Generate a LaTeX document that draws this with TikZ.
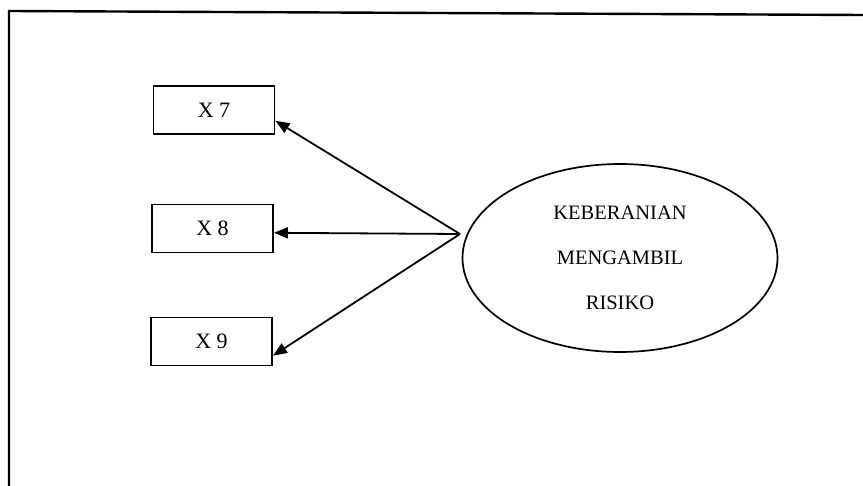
\documentclass[tikz,border=0pt]{standalone}
\usepackage{fontspec}
\setmainfont{Liberation Serif}
\usetikzlibrary{shapes.geometric,arrows.meta}
\tikzset{
  obsbox/.style={draw, line width=1.9pt, minimum width=121pt, minimum height=48pt, inner sep=0pt, font=\fontsize{22}{24}\selectfont},
  latentnode/.style={draw, ellipse, line width=1.7pt, minimum width=315pt, minimum height=188pt, inner sep=0pt, align=center, font=\fontsize{20.5}{45}\selectfont},
  arr/.style={line width=1.8pt, -{Triangle[length=14pt,width=11pt]}},
  frame/.style={line width=2.4pt}
}
\begin{document}
\begin{tikzpicture}[x=1pt,y=-1pt]
\useasboundingbox (0,0) rectangle (863,486);
\coordinate (fl) at (9,486);
\coordinate (ftl) at (9,11);
\coordinate (ftr) at (863,15);
\draw[frame] (fl) -- (ftl) -- (ftr);
\node[obsbox] (x7) at (214,110) {X 7};
\node[obsbox] (x8) at (212.5,228.5) {X 8};
\node[obsbox] (x9) at (211.5,341.5) {X 9};
\node[latentnode] (lat) at (620,258) {KEBERANIAN\\MENGAMBIL\\RISIKO};
\coordinate (src) at (460,234);
\draw[arr] (src) -- (x7.-10);
\draw[arr] (src) -- (x8.-4);
\draw[arr] (src) -- (x9.-13);
\end{tikzpicture}
\end{document}
